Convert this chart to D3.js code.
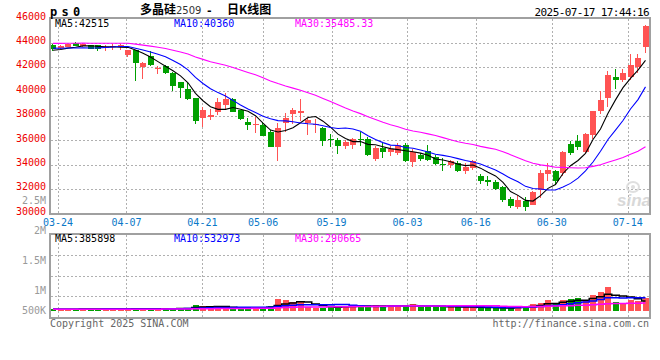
<!DOCTYPE html>
<html><head><meta charset="utf-8">
<script src="https://cdn.jsdelivr.net/npm/d3@7/dist/d3.min.js"></script>
<style>body{margin:0;background:#fff;}svg{display:block;}</style>
</head><body>
<svg id="c" width="660" height="360"></svg>
<script>
// ---------------- data ----------------
const dates = ["03-21","03-24","03-25","03-26","03-27","03-28","03-31","04-01","04-02","04-03",
"04-07","04-08","04-09","04-10","04-11","04-14","04-15","04-16","04-17","04-18",
"04-21","04-22","04-23","04-24","04-25","04-28","04-29","04-30","05-06","05-07",
"05-08","05-09","05-12","05-13","05-14","05-15","05-16","05-19","05-20","05-21",
"05-22","05-23","05-26","05-27","05-28","05-29","05-30","06-03","06-04","06-05",
"06-06","06-09","06-10","06-11","06-12","06-13","06-16","06-17","06-18","06-19",
"06-20","06-23","06-24","06-25","06-26","06-27","06-30","07-01","07-02","07-03",
"07-04","07-07","07-08","07-09","07-10","07-11","07-14","07-15","07-16","07-17"];

const openP = [43800,43520,43660,43930,43700,43780,43770,43560,43600,43600,
42980,43350,41970,42890,41800,42070,41520,40740,40160,39430,
37790,37890,38280,38880,39370,38470,37510,37250,37240,36690,
35460,37380,38110,38200,37430,37250,37020,36110,36000,35540,
35574,36100,36090,34460,35350,35000,34940,35610,34220,34790,
35080,34590,34041,33934,34123,33492,33713,33082,32754,32566,
32170,31200,30516,31033,30705,31934,33221,33443,33303,35680,
35951,35025,36443,38410,39451,41172,40951,41200,41967,43607];

const highP = [43900,43780,43900,44060,43950,43820,43800,43790,43850,43850,
43420,43420,42400,43330,42070,42150,41560,40800,40650,39450,
38690,38520,39420,39890,39470,38500,37840,37920,37460,36820,
37380,38200,38660,39340,37840,37750,37100,36500,36200,36000,
36150,36700,36250,35550,35740,35500,35750,35750,35300,34950,
35570,34750,34500,34400,34250,34100,34400,33220,33030,32700,
32250,31300,31525,31300,31852,33525,34123,33580,35082,35900,
36393,36590,38410,40000,41639,41800,41800,43057,43057,45400];

const lowP = [43300,43450,43600,43680,43650,43450,43330,43330,43400,43400,
42820,40880,41000,42100,41390,41400,40020,39480,39290,37340,
37070,37650,38060,38470,38300,37650,36830,36560,36300,35400,
34310,36690,37300,37590,36420,36600,35500,35460,34860,35300,
35300,35550,34700,34300,34500,34700,34750,34200,33820,34300,
34300,33990,33475,33750,33420,33220,33570,32400,32213,31950,
30950,30450,30377,30200,30656,31254,32623,32295,33033,34754,
35164,34943,36115,38164,38689,40160,40790,40926,41525,43139];

const closeP = [43450,43710,43850,43710,43900,43500,43440,43650,43750,43780,
43390,42360,42340,42180,41900,41520,40460,40250,39370,37590,
38470,38030,39150,39370,38330,37730,37240,37330,36340,35460,
36970,37840,38470,38360,37650,37350,35930,35990,35520,35870,
36070,36000,34800,35380,35030,35290,35610,34300,35010,34460,
34393,34065,33934,34262,33492,33770,34311,32672,32565,32016,
31100,30560,31115,30492,31746,33303,33574,32672,35025,34943,
35434,36500,38361,39311,41361,40951,41500,42131,42730,45328];

// closes before the visible window (for the moving averages)
const priorClose = [43600,43700,43650,43620,43680,43650,43700,43600,43650,43660,
44500,44650,44700,44550,44600,44650,44580,44620,44600,44550,
43750,43700,43650,43700,43700,43400,43300,43350,43350];

const volume = [70000,83000,82000,84000,83000,80000,84000,83000,82000,85000,
84000,124000,86000,83000,82000,85000,124000,122000,126000,249000,
207000,166000,166000,138000,120000,95000,166000,166000,124000,207000,
498000,456000,373000,373000,150000,125000,125000,166000,221000,221000,
180000,207000,207000,236000,207000,207000,207000,207000,290000,166000,
207000,166000,166000,166000,166000,166000,166000,124000,124000,124000,
124000,124000,207000,207000,290000,330000,456000,290000,456000,498000,
539000,456000,664000,788000,1010000,373000,290000,456000,415000,539000];

const priorVolume = [70000,72000,68000,70000,71000,69000,70000,72000,70000,68000,
70000,71000,70000,69000,72000,70000,70000,68000,71000,70000,
72000,70000,69000,70000,71000,70000,70000,72000,70000];

const priceTicks = [46000,44000,42000,40000,38000,36000,34000,32000,30000];
const volTickValues = [2500000,2000000,1500000,1000000,500000];
const volTickLabels = ["2.5M","2M","1.5M","1M","500K"];
const volGridValues = [500000,1000000,1500000];
const dateTicks = ["03-24","04-07","04-21","05-06","05-19","06-03","06-16","06-30","07-14"];

const titleName = "多晶硅";
const titleCode = "2509";
const titleKind = "日K线图";
const symbol = "ps0";
const stamp = "2025-07-17 17:44:16";
const priceMaLabels = ["MA5:42515","MA10:40360","MA30:35485.33"];
const volMaLabels = ["MA5:385898","MA10:532973","MA30:290665"];
const maPeriods = [5,10,30];
const maColors = ["#000000","#0000ff","#ff00ff"];

// ---------------- drawing ----------------
const svg = d3.select("#c");
const RED = "#ff5353", GREEN = "#00a000", GRID = "#b0b0b0", BORDER = "#a0a0a0";
const MONO = "'DejaVu Sans Mono', 'Liberation Mono', monospace";

const x = d3.scaleBand().domain(dates).range([49.25, 649.25]).padding(0);
const cx = d => x(d) + x.bandwidth() / 2;
const xGrid = d3.scalePoint().domain(dates).range([50.5, 650.5]);
const yP = d3.scaleLinear().domain([30000, 46000]).range([213.3, 18.1]);
const yV = d3.scaleLinear().domain([0, 1000000]).range([311, 286.9]);
const yVgrid = d3.scaleLinear().domain([0, 2000000]).range([317, 234]);
const yVlabel = d3.scaleLinear().domain([0, 2000000]).range([354, 234]);

const px = v => Math.round(v) + 0.5;

// clip paths
const defs = svg.append("defs");
defs.append("clipPath").attr("id", "cpMain").append("rect").attr("x", 51).attr("y", 19).attr("width", 598).attr("height", 194);
defs.append("clipPath").attr("id", "cpVol").append("rect").attr("x", 51).attr("y", 235).attr("width", 598).attr("height", 82);

// grid - main
const gGrid = svg.append("g").attr("stroke", GRID).attr("stroke-width", 1).attr("stroke-dasharray", "2,2").attr("fill", "none");
priceTicks.filter(v => v > 30000 && v < 46000).forEach(v => {
  gGrid.append("line").attr("x1", 51).attr("x2", 649).attr("y1", px(yP(v))).attr("y2", px(yP(v)));
});
dateTicks.forEach(d => {
  const gx = px(xGrid(d));
  gGrid.append("line").attr("x1", gx).attr("x2", gx).attr("y1", 19).attr("y2", 213);
  gGrid.append("line").attr("x1", gx).attr("x2", gx).attr("y1", 235).attr("y2", 317);
});
volGridValues.forEach(v => {
  gGrid.append("line").attr("x1", 51).attr("x2", 649).attr("y1", px(yVgrid(v))).attr("y2", px(yVgrid(v)));
});

// watermark
const wm = svg.append("g").attr("opacity", 0.9);
wm.append("ellipse").attr("cx", 633).attr("cy", 187).attr("rx", 6).attr("ry", 5).attr("fill", "none").attr("stroke", "#dcdcdc").attr("stroke-width", 2);
wm.append("circle").attr("cx", 633).attr("cy", 187).attr("r", 2).attr("fill", "#dcdcdc");
wm.append("text").attr("x", 617).attr("y", 206).attr("font-family", "'Liberation Sans', Arial, sans-serif").attr("font-size", 17).attr("font-weight", "bold").attr("font-style", "italic").attr("fill", "#d4d4d4").text("sina");

// candles
const rows = dates.map((d, i) => ({d, o: openP[i], h: highP[i], l: lowP[i], c: closeP[i], v: volume[i]}));
const gC = svg.append("g").attr("clip-path", "url(#cpMain)");
rows.forEach(r => {
  const col = r.c >= r.o ? RED : GREEN;
  const left = Math.round(cx(r.d) - 3);
  const yh = Math.round(yP(r.h)), yl = Math.round(yP(r.l));
  const yt = Math.round(yP(Math.max(r.o, r.c))), yb = Math.round(yP(Math.min(r.o, r.c)));
  gC.append("rect").attr("x", left + 2).attr("width", 1).attr("y", yh).attr("height", Math.max(1, yl - yh)).attr("fill", col);
  gC.append("rect").attr("x", left).attr("width", 6).attr("y", yt).attr("height", Math.max(1, yb - yt)).attr("fill", col);
});

// moving averages
function movingAvg(prior, vals, n) {
  const all = prior.concat(vals);
  const off = prior.length;
  return vals.map((_, i) => {
    const s = all.slice(off + i - n + 1, off + i + 1);
    return d3.mean(s);
  });
}
const gMA = svg.append("g").attr("clip-path", "url(#cpMain)").attr("fill", "none");
maPeriods.forEach((n, k) => {
  const ma = movingAvg(priorClose, closeP, n);
  const line = d3.line().x((_, i) => cx(dates[i])).y(v => yP(v));
  gMA.append("path").attr("d", line(ma)).attr("stroke", maColors[k]).attr("stroke-width", 1.1);
});

// volume bars
const gVb = svg.append("g").attr("clip-path", "url(#cpVol)");
rows.forEach(r => {
  const col = r.c >= r.o ? RED : GREEN;
  const left = Math.round(cx(r.d) - 3);
  const yt = Math.round(yV(r.v)), yb = Math.round(yV(0));
  gVb.append("rect").attr("x", left).attr("width", 6).attr("y", yt).attr("height", Math.max(1, yb - yt)).attr("fill", col);
});
const gVm = svg.append("g").attr("clip-path", "url(#cpVol)").attr("fill", "none");
maPeriods.forEach((n, k) => {
  const ma = movingAvg(priorVolume, volume, n);
  const line = d3.line().curve(d3.curveStep).x((_, i) => cx(dates[i])).y(v => yV(v));
  gVm.append("path").attr("d", line(ma)).attr("stroke", maColors[k]).attr("stroke-width", 1.5);
});

// borders
svg.append("rect").attr("x", 50).attr("y", 18).attr("width", 600).attr("height", 196).attr("fill", "none").attr("stroke", BORDER).attr("stroke-width", 2);
svg.append("rect").attr("x", 50).attr("y", 234).attr("width", 600).attr("height", 84).attr("fill", "none").attr("stroke", BORDER).attr("stroke-width", 2);

// price axis labels
const gT = svg.append("g").attr("font-family", MONO).attr("font-size", 10);
priceTicks.forEach(v => {
  gT.append("text").attr("x", 46).attr("y", yP(v) + 1.4).attr("text-anchor", "end").attr("fill", "#ee0000").text(d3.format("d")(v));
});
// volume axis labels
volTickValues.forEach((v, i) => {
  gT.append("text").attr("x", 46).attr("y", Math.min(314, yVlabel(v))).attr("text-anchor", "end").attr("fill", "#9a9a9a").text(volTickLabels[i]);
});
// date labels
dateTicks.forEach(d => {
  gT.append("text").attr("x", xGrid(d)).attr("y", 225.5).attr("text-anchor", "middle").attr("fill", "#0a78c8").text(d);
});
// MA legends
const legX = [55, 174, 295];
priceMaLabels.forEach((t, k) => gT.append("text").attr("x", legX[k]).attr("y", 27.3).attr("fill", maColors[k]).text(t));
volMaLabels.forEach((t, k) => gT.append("text").attr("x", legX[k]).attr("y", 242).attr("fill", maColors[k]).text(t));

// header
svg.append("text").attr("x", 50).attr("y", 15.5).attr("font-family", MONO).attr("font-size", 12).attr("font-weight", "bold")
  .attr("letter-spacing", "4.3px").attr("fill", "#000").text(symbol);
const CJK = "'Noto Sans CJK SC', sans-serif";
svg.append("text").attr("x", 140).attr("y", 14).attr("font-family", CJK).attr("font-size", 12).attr("font-weight", "bold").attr("fill", "#000").text(titleName);
svg.append("text").attr("x", 176).attr("y", 14).attr("font-family", "'DejaVu Sans', sans-serif").attr("font-size", 10).attr("fill", "#333").text(titleCode);
svg.append("text").attr("x", 206).attr("y", 14).attr("font-family", MONO).attr("font-size", 11).attr("font-weight", "bold").attr("fill", "#000").text("-");
svg.append("text").attr("x", 227).attr("y", 14).attr("font-family", CJK).attr("font-size", 12).attr("font-weight", "bold").attr("fill", "#000").text(titleKind);
svg.append("text").attr("x", 649).attr("y", 15.5).attr("font-family", MONO).attr("font-size", 11).attr("letter-spacing", "-0.6px")
  .attr("text-anchor", "end").attr("fill", "#000").text(stamp);

// footer
svg.append("text").attr("x", 50).attr("y", 327).attr("font-family", MONO).attr("font-size", 10).attr("fill", "#666").text("Copyright 2025 SINA.COM");
svg.append("text").attr("x", 649).attr("y", 327).attr("font-family", MONO).attr("font-size", 10).attr("text-anchor", "end").attr("fill", "#666").text("http://finance.sina.com.cn");
</script>
</body></html>
